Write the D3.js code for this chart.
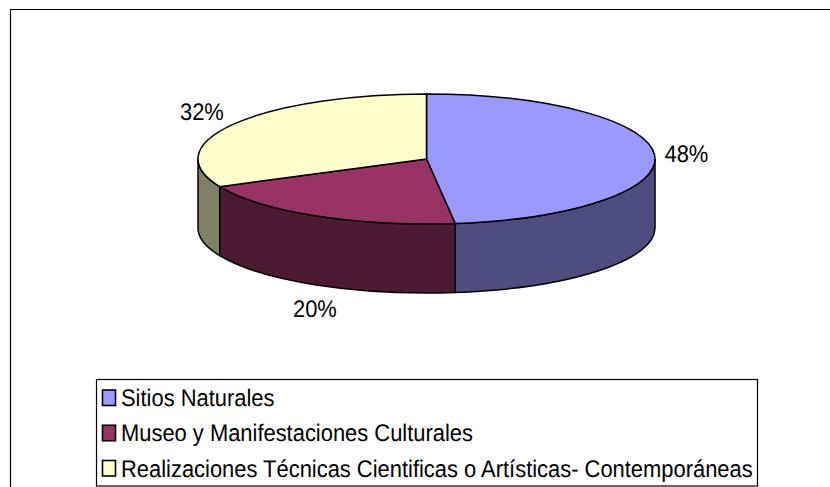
<!DOCTYPE html>
<html><head><meta charset="utf-8">
<script src="https://cdn.jsdelivr.net/npm/d3@7"></script>
<style>html,body{margin:0;padding:0;background:#fff}svg{display:block}text{font-family:"Liberation Sans",Arial,sans-serif;fill:#000;text-rendering:geometricPrecision}</style>
</head><body><svg id="c" width="830" height="487"></svg>
<script>
const categories=["Sitios Naturales","Museo y Manifestaciones Culturales","Realizaciones Técnicas Cientificas o Artísticas- Contemporáneas"];
const values=[48,20,32];
const topColors=["#9999FF","#993366","#FFFFCC"];
const sideColors=["#4D4D80","#4D1A33","#808066"];
const labelPos=[[664.5,161.5],[293,317],[180,119.5]];
const W=830,H=487,cx=426.5,cy=159,rx=228.5,ry=65,depth=69;
const textScale=0.913;
const svg=d3.select("#c");
svg.append("path").attr("d",`M830 9.5H10.5V487`).attr("fill","none").attr("stroke","#000").attr("stroke-width",1.2);
const arcs=d3.pie().sort(null).value(d=>d)(values);
const k=ry/rx;
const g=svg.append("g").attr("transform",`translate(${cx},${cy}) scale(1,${k})`);
const toRad=a=>a-Math.PI/2;
const lo=Math.PI/2,hi=3*Math.PI/2;
arcs.forEach((a,i)=>{
  const a0=Math.max(a.startAngle,lo),a1=Math.min(a.endAngle,hi);
  if(a1<=a0)return;
  const p=d3.path(),d=depth/k;
  p.arc(0,0,rx,toRad(a0),toRad(a1),false);
  p.lineTo(rx*Math.cos(toRad(a1)),rx*Math.sin(toRad(a1))+d);
  p.arc(0,d,rx,toRad(a1),toRad(a0),true);
  p.closePath();
  g.append("path").attr("d",p.toString()).attr("fill",sideColors[i]).attr("stroke","#000").attr("stroke-width",1.5).attr("vector-effect","non-scaling-stroke");
});
const arc=d3.arc().innerRadius(0).outerRadius(rx);
g.selectAll("path.top").data(arcs).enter().append("path").attr("class","top").attr("d",arc)
 .attr("fill",(d,i)=>topColors[i]).attr("stroke","#000").attr("stroke-width",1.5).attr("vector-effect","non-scaling-stroke");
values.forEach((v,i)=>svg.append("text").attr("transform",`translate(${labelPos[i][0]},${labelPos[i][1]}) scale(${textScale},1)`).attr("font-size",24).text(v+"%"));
svg.append("rect").attr("x",96.5).attr("y",379.5).attr("width",661).attr("height",106.5).attr("fill","#fff").attr("stroke","#000").attr("stroke-width",1.2);
const ly=d3.scalePoint().domain(categories).range([406,476.5]);
categories.forEach((c,i)=>{
  const y=ly(c);
  svg.append("rect").attr("x",102.5).attr("y",y-16).attr("width",13).attr("height",15.5).attr("fill",topColors[i]).attr("stroke","#000").attr("stroke-width",1.6);
  svg.append("text").attr("transform",`translate(121,${y}) scale(${textScale},1)`).attr("font-size",24).text(c);
});
</script></body></html>
